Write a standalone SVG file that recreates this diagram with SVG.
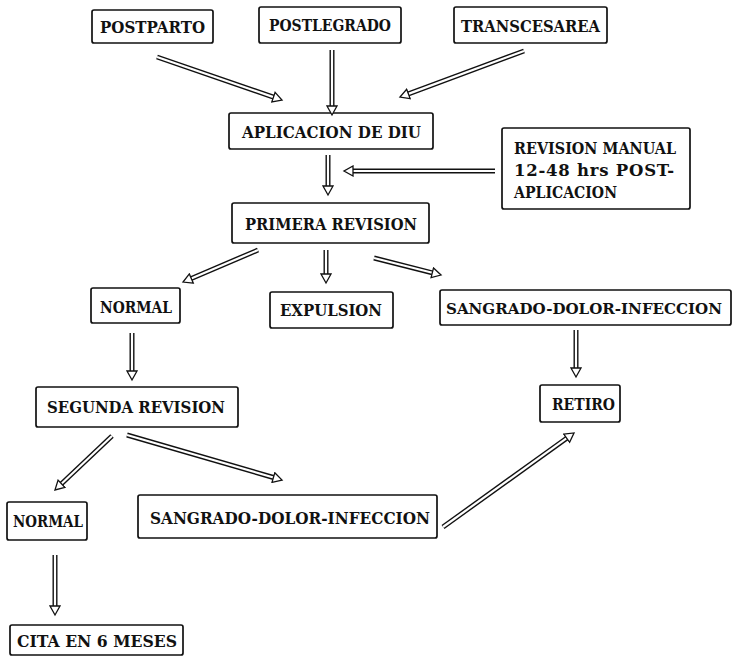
<svg xmlns="http://www.w3.org/2000/svg" width="737" height="656" viewBox="0 0 737 656">
<style>
.box rect{fill:#fff;stroke:#111;stroke-width:1.7}
.box text{font-family:"DejaVu Serif","Liberation Serif",serif;font-weight:bold;font-size:16.5px;fill:#111}
.box text.lg{font-size:17.5px}
.box text.sm{font-size:15px}
.sh-o{stroke:#111;stroke-width:5;fill:none}
.sh-i{stroke:#fff;stroke-width:2.2;fill:none;marker-end:url(#hd)}
</style>
<defs>
<marker id="hd" viewBox="-1 -1 12 12" refX="0" refY="5" markerWidth="12" markerHeight="12" markerUnits="userSpaceOnUse" orient="auto">
<path d="M0,0 L9,5 L0,10 Z" fill="#fff" stroke="#111" stroke-width="1.3"/>
</marker>
</defs>
<rect width="737" height="656" fill="#fff"/>
<g id="n-postparto" class="box"><rect x="92" y="10" width="121" height="33" rx="2"/><text x="100" y="33" textLength="105" lengthAdjust="spacingAndGlyphs">POSTPARTO</text></g>
<g id="n-postlegrado" class="box"><rect x="259" y="7" width="142" height="36" rx="2"/><text x="269" y="31" textLength="122" lengthAdjust="spacingAndGlyphs">POSTLEGRADO</text></g>
<g id="n-transcesarea" class="box"><rect x="454" y="7" width="153" height="36" rx="2"/><text x="461" y="32" textLength="139" lengthAdjust="spacingAndGlyphs">TRANSCESAREA</text></g>
<g id="n-aplicacion" class="box"><rect x="229" y="113" width="204" height="36" rx="2"/><text x="242" y="138" textLength="179" lengthAdjust="spacingAndGlyphs">APLICACION DE DIU</text></g>
<g id="n-revman" class="box"><rect x="502" y="128" width="188" height="81" rx="2"/><text x="514" y="154" textLength="162" lengthAdjust="spacingAndGlyphs">REVISION MANUAL</text><text x="514" y="176" font-size="15" textLength="160" lengthAdjust="spacing">12-48 hrs POST-</text><text x="514" y="198" textLength="103" lengthAdjust="spacingAndGlyphs">APLICACION</text></g>
<g id="n-primera" class="box"><rect x="232" y="203" width="197" height="40" rx="2"/><text x="245" y="230" textLength="172" lengthAdjust="spacingAndGlyphs">PRIMERA REVISION</text></g>
<g id="n-normal1" class="box"><rect x="91" y="288" width="89" height="35" rx="2"/><text x="100" y="313" textLength="72" lengthAdjust="spacingAndGlyphs">NORMAL</text></g>
<g id="n-expulsion" class="box"><rect x="270" y="292" width="123" height="36" rx="2"/><text x="280" y="316" textLength="102" lengthAdjust="spacingAndGlyphs">EXPULSION</text></g>
<g id="n-sangrado1" class="box"><rect x="440" y="290" width="291" height="35" rx="2"/><text class="sm" x="446" y="314" textLength="276" lengthAdjust="spacingAndGlyphs">SANGRADO-DOLOR-INFECCION</text></g>
<g id="n-segunda" class="box"><rect x="36" y="387" width="202" height="40" rx="2"/><text x="47" y="413" textLength="178" lengthAdjust="spacingAndGlyphs">SEGUNDA REVISION</text></g>
<g id="n-retiro" class="box"><rect x="540" y="385" width="80" height="37" rx="2"/><text x="552" y="410" textLength="63" lengthAdjust="spacingAndGlyphs">RETIRO</text></g>
<g id="n-normal2" class="box"><rect x="7" y="502" width="80" height="38" rx="2"/><text class="lg" x="13" y="527" textLength="70" lengthAdjust="spacingAndGlyphs">NORMAL</text></g>
<g id="n-sangrado2" class="box"><rect x="138" y="495" width="299" height="43" rx="2"/><text class="lg" x="150" y="524" textLength="280" lengthAdjust="spacingAndGlyphs">SANGRADO-DOLOR-INFECCION</text></g>
<g id="n-cita" class="box"><rect x="10" y="625" width="173" height="30" rx="2"/><text class="lg" x="17" y="647" textLength="160" lengthAdjust="spacingAndGlyphs">CITA EN 6 MESES</text></g>
<g id="connectors">
<g class="sh-o">
<line x1="157" y1="57" x2="273.5" y2="97.1"/>
<line x1="332" y1="50" x2="332" y2="106"/>
<line x1="524" y1="51" x2="408.4" y2="93.9"/>
<line x1="328" y1="155" x2="328" y2="186"/>
<line x1="495" y1="171" x2="353" y2="171"/>
<line x1="258" y1="250" x2="191.3" y2="278.5"/>
<line x1="326" y1="250" x2="326" y2="274"/>
<line x1="374" y1="258" x2="432.3" y2="272.8"/>
<line x1="132" y1="333" x2="132" y2="371"/>
<line x1="576" y1="330" x2="576" y2="368"/>
<line x1="112" y1="436" x2="61.5" y2="483.8"/>
<line x1="127" y1="435" x2="273.4" y2="477.5"/>
<line x1="443" y1="527" x2="566.7" y2="438.2"/>
<line x1="55" y1="555" x2="55" y2="606"/>
</g>
<g class="sh-i">
<line x1="157" y1="57" x2="273.5" y2="97.1"/>
<line x1="332" y1="50" x2="332" y2="106"/>
<line x1="524" y1="51" x2="408.4" y2="93.9"/>
<line x1="328" y1="155" x2="328" y2="186"/>
<line x1="495" y1="171" x2="353" y2="171"/>
<line x1="258" y1="250" x2="191.3" y2="278.5"/>
<line x1="326" y1="250" x2="326" y2="274"/>
<line x1="374" y1="258" x2="432.3" y2="272.8"/>
<line x1="132" y1="333" x2="132" y2="371"/>
<line x1="576" y1="330" x2="576" y2="368"/>
<line x1="112" y1="436" x2="61.5" y2="483.8"/>
<line x1="127" y1="435" x2="273.4" y2="477.5"/>
<line x1="443" y1="527" x2="566.7" y2="438.2"/>
<line x1="55" y1="555" x2="55" y2="606"/>
</g>
</g>
</svg>
